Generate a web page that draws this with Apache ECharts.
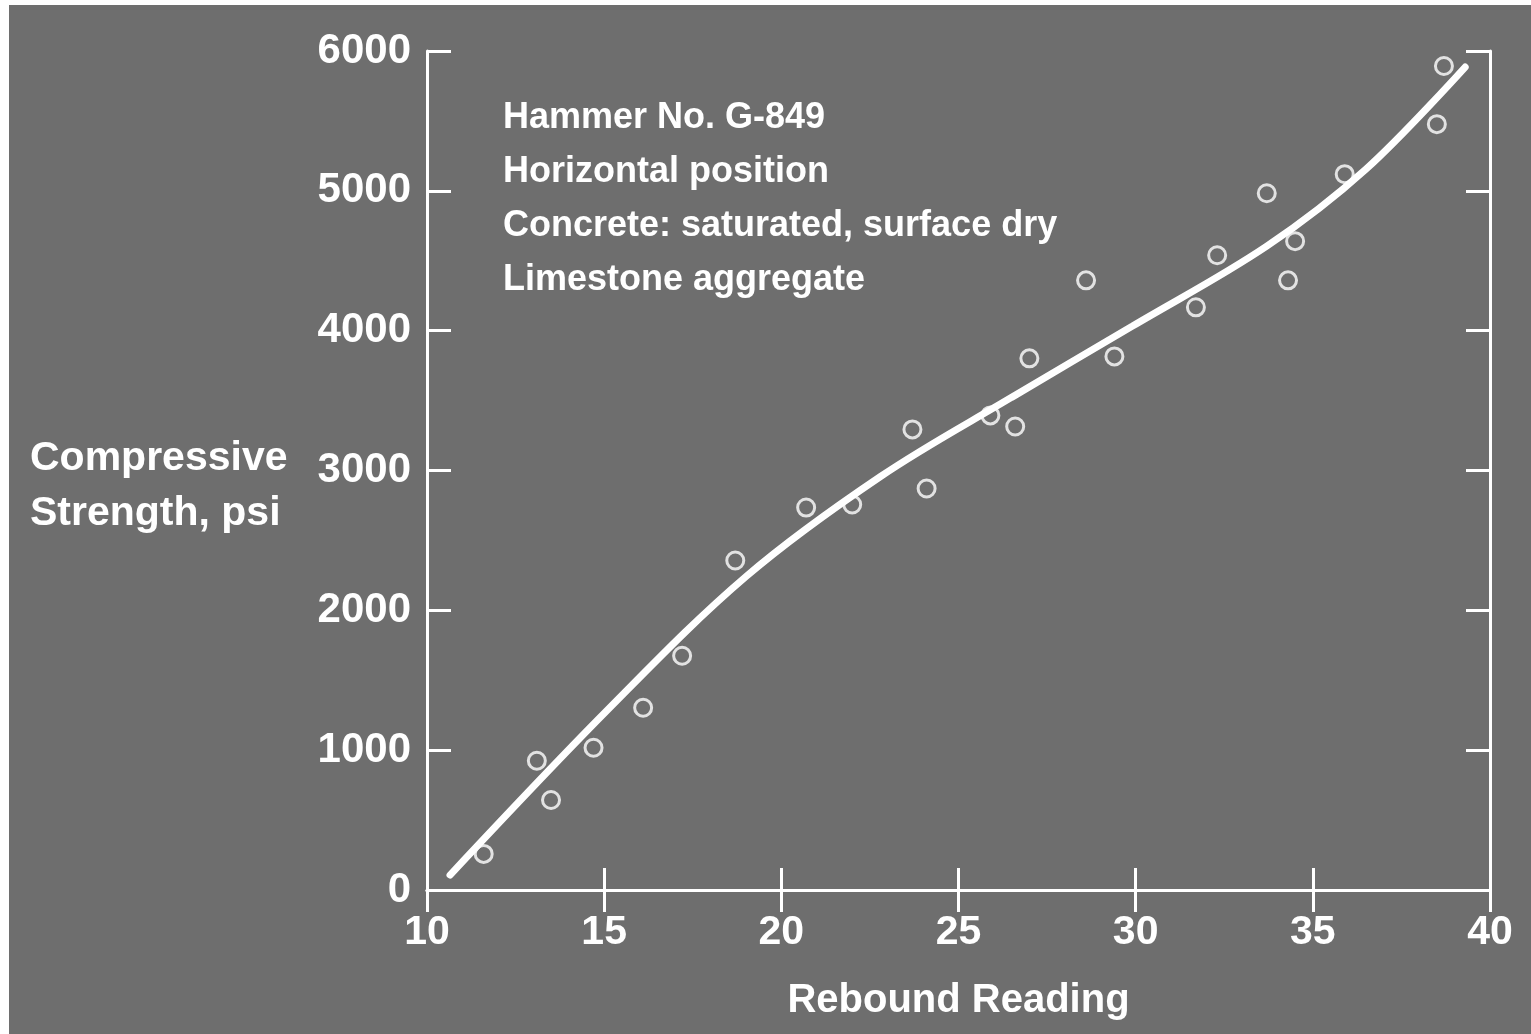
<!DOCTYPE html>
<html>
<head>
<meta charset="utf-8">
<script src="https://cdn.jsdelivr.net/npm/echarts@6/dist/echarts.min.js"></script>
<style>
  html, body { margin: 0; padding: 0; background: #ffffff; }
  #chart { position: absolute; left: 9px; top: 5px; width: 1522px; height: 1029px; }
</style>
</head>
<body>
<div id="chart"></div>
<script>
// measured specimens: rebound reading vs compressive strength (psi)
const reboundPoints = [11.6, 13.1, 13.5, 14.7, 16.1, 17.2, 18.7, 20.7, 22.0, 23.7, 24.1, 25.9,
  26.6, 27.0, 28.6, 29.4, 31.7, 32.3, 33.7, 34.3, 34.5, 35.9, 38.5, 38.7];
const strengthPoints = [258, 924, 644, 1017, 1303, 1675, 2356, 2735, 2757, 3294, 2871, 3394,
  3315, 3802, 4360, 3816, 4167, 4539, 4983, 4360, 4640, 5119, 5477, 5893];

// fitted calibration curve
const curveRebound = [10.65, 15.1, 19.0, 22.8, 26.5, 29.9, 33.7, 36.5, 39.3];
const curveStrength = [107, 1289, 2241, 2957, 3523, 4031, 4604, 5155, 5885];

const xTicks = [10, 15, 20, 25, 30, 35, 40];
const yTicks = [0, 1000, 2000, 3000, 4000, 5000, 6000];

const notes = [
  "Hammer No. G-849",
  "Horizontal position",
  "Concrete: saturated, surface dry",
  "Limestone aggregate"
];
const yTitle = ["Compressive", "Strength, psi"];
const xTitle = "Rebound Reading";

const BG = "#6e6e6e";
const INK = "#ffffff";
const FONT = '"Liberation Sans", Arial, sans-serif';

const chart = echarts.init(document.getElementById("chart"), null, { renderer: "canvas" });

const axisLine = { show: true, lineStyle: { color: INK, width: 3 } };
const tick = (len) => ({ show: true, inside: true, length: len, lineStyle: { color: INK, width: 3 } });

function xAxisDef(position, showLabels){
  return {
    type: "value",
    position,
    min: xTicks[0],
    max: xTicks[xTicks.length - 1],
    interval: xTicks[1] - xTicks[0],
    axisLine,
    axisTick: tick(22),
    splitLine: { show: false },
    axisLabel: {
      show: showLabels,
      color: INK,
      fontFamily: FONT,
      fontWeight: "bold",
      fontSize: 41,
      margin: 22,
      formatter: (v) => String(v)
    },
    name: showLabels ? xTitle : "",
    nameLocation: "middle",
    nameGap: 91,
    nameTextStyle: { color: INK, fontFamily: FONT, fontWeight: "bold", fontSize: 40 }
  };
}

function yAxisDef(position, showLabels){
  return {
    type: "value",
    position,
    min: yTicks[0],
    max: yTicks[yTicks.length - 1],
    interval: yTicks[1] - yTicks[0],
    axisLine,
    axisTick: tick(24),
    splitLine: { show: false },
    axisLabel: {
      show: showLabels,
      color: INK,
      fontFamily: FONT,
      fontWeight: "bold",
      fontSize: 42,
      margin: 16,
      formatter: (v) => String(v)
    }
  };
}

chart.setOption({
  animation: false,
  backgroundColor: BG,
  grid: { left: 418, right: 41, top: 46, bottom: 144 },
  xAxis: [xAxisDef("bottom", true), xAxisDef("top", false)],
  yAxis: [yAxisDef("left", true), yAxisDef("right", false)],
  graphic: [
    {
      type: "text",
      left: 494,
      top: 86,
      style: {
        text: notes.join("\n"),
        fill: INK,
        font: `bold 36px ${FONT}`,
        lineHeight: 54
      }
    },
    {
      type: "text",
      left: 21,
      top: 426,
      style: {
        text: yTitle.join("\n"),
        fill: INK,
        font: `bold 41px ${FONT}`,
        lineHeight: 55
      }
    }
  ],
  series: [
    {
      type: "line",
      data: curveRebound.map((x, i) => [x, curveStrength[i]]),
      smooth: 0.35,
      showSymbol: false,
      lineStyle: { color: INK, width: 7, cap: "round" },
      z: 2
    },
    {
      type: "scatter",
      data: reboundPoints.map((x, i) => [x, strengthPoints[i]]),
      symbol: "circle",
      symbolSize: 17,
      itemStyle: { color: "transparent", borderColor: INK, borderWidth: 3 },
      z: 3
    }
  ]
}, true);
</script>
</body>
</html>
